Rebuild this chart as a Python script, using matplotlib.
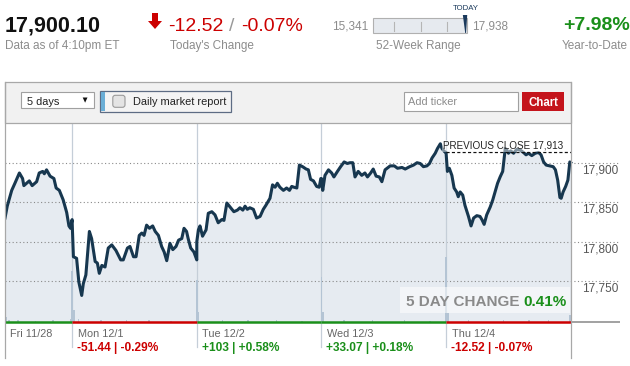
import numpy as np
import matplotlib
matplotlib.use("Agg")
import matplotlib.pyplot as plt
from matplotlib.patches import Rectangle, Polygon, FancyBboxPatch
from matplotlib.lines import Line2D
from matplotlib.transforms import Affine2D

plt.rcParams['font.family'] = ['Liberation Sans', 'DejaVu Sans']

# header numbers
last_price = 17900.10
last_label = "17,900.10"
data_time = "Data as of 4:10pm ET"
chg_pts = "-12.52"
chg_pct = "-0.07%"
low_52 = 15341
high_52 = 17938
ytd = "+7.98%"
prev_close = 17913

# days on the chart
days = ["Fri 11/28", "Mon 12/1", "Tue 12/2", "Wed 12/3", "Thu 12/4"]
day_minutes = [210, 390, 390, 390, 390]
day_changes = ["", "-51.44 | -0.29%", "+103 | +0.58%", "+33.07 | +0.18%", "-12.52 | -0.07%"]
day_up = [True, False, True, True, False]

# intraday prices, minutes since each day's open
fri_t = [0, 7, 21, 31, 45, 55, 59, 76, 85, 99, 107, 118, 123, 130, 141, 153, 160, 170, 182, 193, 200, 205, 210]
fri_v = [17830, 17845, 17865, 17874, 17887, 17880, 17871, 17877, 17871, 17876, 17887, 17889, 17886, 17891,
         17883, 17880, 17868, 17865, 17853, 17837, 17820, 17817, 17828]
mon_t = [0, 4, 14, 21, 30, 35, 43, 54, 61, 72, 79, 85, 93, 103, 113, 124, 137, 152, 160, 173, 181, 187, 192,
         200, 210, 218, 225, 233, 242, 252, 260, 270, 280, 288, 296, 306, 315, 325, 333, 343, 350, 358, 363,
         371, 381, 390]
mon_v = [17826, 17781, 17779, 17749, 17732, 17747, 17758, 17813, 17804, 17775, 17773, 17760, 17770, 17768,
         17792, 17796, 17789, 17777, 17777, 17792, 17794, 17787, 17781, 17781, 17808, 17811, 17808, 17821,
         17817, 17820, 17813, 17808, 17794, 17787, 17776, 17798, 17790, 17794, 17802, 17804, 17817, 17813,
         17804, 17792, 17787, 17777]
tue_t = [0, 5, 10, 18, 29, 36, 47, 57, 67, 78, 85, 94, 106, 116, 127, 135, 144, 151, 158, 166, 177, 187, 198,
         208, 216, 229, 237, 245, 252, 260, 271, 281, 290, 297, 304, 313, 321, 331, 342, 349, 356, 365, 375,
         383, 388, 390]
tue_v = [17800, 17815, 17820, 17807, 17815, 17836, 17838, 17834, 17824, 17828, 17827, 17849, 17843, 17838,
         17840, 17843, 17840, 17845, 17841, 17843, 17841, 17830, 17832, 17841, 17846, 17855, 17872, 17869,
         17874, 17869, 17865, 17868, 17865, 17870, 17869, 17868, 17897, 17895, 17892, 17891, 17879, 17877,
         17870, 17869, 17880, 17880]
wed_t = [0, 4, 11, 22, 32, 39, 50, 60, 71, 81, 89, 98, 105, 115, 126, 136, 144, 154, 162, 171, 181, 189, 199,
         215, 228, 238, 252, 262, 276, 288, 299, 309, 319, 330, 338, 346, 356, 363, 372, 377, 385, 390]
wed_v = [17880, 17865, 17884, 17891, 17887, 17882, 17889, 17895, 17901, 17899, 17900, 17900, 17882, 17889,
         17884, 17887, 17882, 17887, 17892, 17883, 17882, 17876, 17891, 17896, 17896, 17893, 17894, 17892,
         17895, 17897, 17900, 17899, 17895, 17896, 17899, 17906, 17912, 17918, 17924, 17918, 17914, 17913]
thu_t = [0, 4, 10, 18, 25, 33, 38, 44, 52, 59, 70, 78, 86, 96, 106, 112, 119, 127, 138, 146, 153, 161, 169,
         177, 185, 190, 195, 202, 211, 221, 232, 242, 250, 258, 268, 279, 289, 297, 305, 313, 324, 335, 342,
         349, 356, 360, 366, 374, 381, 387, 390]
thu_v = [17912, 17889, 17893, 17884, 17868, 17863, 17857, 17863, 17859, 17846, 17832, 17820, 17830, 17833,
         17832, 17828, 17822, 17834, 17844, 17853, 17863, 17874, 17882, 17889, 17918, 17916, 17912, 17915,
         17912, 17917, 17916, 17913, 17910, 17912, 17909, 17912, 17913, 17910, 17901, 17897, 17896, 17895,
         17891, 17878, 17856, 17855, 17863, 17870, 17878, 17901, 17900]

# volume spikes (minutes since Fri open, relative size)
vol_t = [0, 3, 12, 40, 95, 150, 205, 210, 215, 230, 300, 380, 450, 520, 600, 605, 680, 760, 850, 930,
         990, 995, 1060, 1150, 1250, 1330, 1380, 1385, 1450, 1560, 1640, 1700, 1767]
vol_h = [14, 5, 2, 2, 1, 2, 3, 51, 12, 3, 2, 2, 2, 1, 42, 10, 2, 2, 2, 1,
         45, 10, 2, 2, 2, 1, 65, 9, 2, 2, 2, 2, 7]

y_ticks = [17750, 17800, 17850, 17900]
five_day = "0.41%"

RED = '#cc0000'
GREEN = '#1a8f1a'
GRAY = '#8c8c8c'
NAVY = '#17374f'

fig = plt.figure(figsize=(6.3, 3.66), dpi=100)
fig.patch.set_facecolor('white')
PX = Affine2D().scale(1 / 630, -1 / 366).translate(0, 1) + fig.transFigure


def txt(x, y, s, **kw):
    kw.setdefault('va', 'baseline')
    return fig.text(x, y, s, transform=PX, **kw)


def box(x, y, w, h, **kw):
    return fig.add_artist(Rectangle((x, y), w, h, transform=PX, **kw))


def line(xs, ys, **kw):
    return fig.add_artist(Line2D(xs, ys, transform=PX, **kw))


# ---- header ----
txt(5, 31.5, last_label, fontsize=15.5, fontweight='bold', color='#111111')
txt(5, 48.5, data_time, fontsize=8.5, color=GRAY)

fig.add_artist(Polygon([(152, 13), (158, 13), (158, 21), (162, 21), (155, 29), (148, 21), (152, 21)],
                       closed=True, transform=PX, color=RED, lw=0))
txt(168, 31, chg_pts, fontsize=14, color=RED)
txt(229, 31, "/", fontsize=14, color='#999999')
txt(241, 31, chg_pct, fontsize=14, color=RED)
txt(170, 48.5, "Today's Change", fontsize=8.5, color=GRAY)

bar_x0, bar_x1 = 373, 467
txt(368, 29.3, f"{low_52:,}", fontsize=8.5, color=GRAY, ha='right')
box(bar_x0, 18, bar_x1 - bar_x0, 15, facecolor='#e6eaef', edgecolor='#b0b0b0', lw=0.8)
for k in range(3):
    xx = 394.3 + k * 26.2
    line([xx, xx], [21.7, 30.5], color='#b5b5b5', lw=0.8)
pos = bar_x0 + (last_price - low_52) / (high_52 - low_52) * (bar_x1 - bar_x0)
fig.add_artist(Polygon([(pos - 2.8, 15), (pos + 1.6, 15), (pos + 0.4, 33), (pos - 0.4, 33)],
                       closed=True, transform=PX, color='#1b3a5c', lw=0))
txt(pos, 10, "TODAY", fontsize=5.6, color='#1b3a5c', ha='center')
txt(472, 29.3, f"{high_52:,}", fontsize=8.5, color=GRAY)
txt(376, 49, "52-Week Range", fontsize=8.5, color=GRAY)

txt(563, 29.5, ytd, fontsize=14, fontweight='bold', color=GREEN)
txt(562, 49, "Year-to-Date", fontsize=8.5, color=GRAY)

# ---- panel + toolbar ----
box(4.5, 82, 566.2, 40.5, facecolor='#f1f1f1', edgecolor='#a8a8a8', lw=0.9)
line([4.5, 4.5], [82, 358], color='#a8a8a8', lw=0.9)
line([570.7, 570.7], [82, 358], color='#a8a8a8', lw=0.9)

box(20.7, 91.7, 73.6, 16.6, facecolor='white', edgecolor='#a0a0a0', lw=0.8)
txt(26.7, 104.8, "5 days", fontsize=7.9, color='#222222')
fig.add_artist(Polygon([(82.7, 97.5), (87.5, 97.5), (85.1, 102.7)], closed=True,
                       transform=PX, color='#111111', lw=0))

box(100.3, 91.3, 130.4, 20.4, facecolor='#f4f4f4', edgecolor='#5d6c84', lw=0.9)
box(100.7, 91.8, 4.6, 19.4, facecolor='#6aaed6', edgecolor='none')
fig.add_artist(FancyBboxPatch((112.8, 95.3), 12.2, 12, boxstyle="round,pad=0,rounding_size=2.5",
                              transform=PX, facecolor='#e4e4e4', edgecolor='#9a9a9a', lw=0.8))
txt(132.7, 105.3, "Daily market report", fontsize=7.9, color='#222222')

box(404.3, 92, 113.5, 19, facecolor='white', edgecolor='#a0a0a0', lw=0.8)
txt(408.3, 105.3, "Add ticker", fontsize=7.9, color=GRAY)
box(522.3, 92, 42, 19, facecolor='#c4141c', edgecolor='none')
txt(543.3, 105.5, "Chart", fontsize=8.3, fontweight='bold', color='white', ha='center')

# ---- price chart ----
day_start = np.concatenate([[0], np.cumsum(day_minutes)[:-1]])
day_end = day_start + np.array(day_minutes)
t_all = np.concatenate([np.array(t) + s for t, s in zip([fri_t, mon_t, tue_t, wed_t, thu_t], day_start)])
v_all = np.concatenate([fri_v, mon_v, tue_v, wed_v, thu_v])

ymin, ymax = 17698.4, 17950.9
ax = fig.add_axes([5 / 630, 1 - 322 / 366, 615 / 630, 199.5 / 366])
ax.set_facecolor('white')
ax.set_xlim(0, 1924)
ax.set_ylim(ymin, ymax)
for s in ax.spines.values():
    s.set_visible(False)
ax.set_yticks(y_ticks)
ax.set_xticks([])
ax.tick_params(axis='y', length=0, labelleft=False)
ax.grid(axis='y', linestyle=(0, (1, 2.2)), color='#8a8a8a', lw=0.8)

ax.fill_between(t_all, v_all, ymin, color='#e6ebf1', lw=0, zorder=1)
for s in day_start[1:]:
    ax.plot([s, s], [-0.125, 1], transform=ax.get_xaxis_transform(), color='#c5ced8',
            lw=0.9, clip_on=False, zorder=1.6)
ax.plot(t_all, v_all, color=NAVY, lw=2.2, solid_joinstyle='round', zorder=3)

ax.hlines(prev_close, day_start[-1], day_end[-1], colors='#111111', linestyles=(0, (2.5, 1.8)),
          lw=0.9, zorder=3.5)
ax.annotate(f"PREVIOUS CLOSE {prev_close:,}", xy=(day_end[-1], prev_close), xytext=(-7.5, 3.5),
            textcoords='offset pixels', ha='right', va='baseline', fontsize=7.1, color='#222222',
            zorder=4, bbox=dict(boxstyle='square,pad=0.1', facecolor='white', alpha=0.45, lw=0))

for yt in y_ticks:
    ax.annotate(f"{yt:,}", xy=(1, yt), xycoords=('axes fraction', 'data'), xytext=(-1.5, -10.6),
                textcoords='offset pixels', ha='right', va='baseline', fontsize=8.5, color='#555555',
                annotation_clip=False)

for s, name, chg, up in zip(day_start, days, day_changes, day_up):
    ax.annotate(name, xy=(s, 0), xycoords=ax.get_xaxis_transform(), xytext=(5.5, -14.7),
                textcoords='offset pixels', ha='left', va='baseline', fontsize=7.8, color='#666666',
                annotation_clip=False)
    if chg:
        ax.annotate(chg, xy=(s, 0), xycoords=ax.get_xaxis_transform(), xytext=(5, -29),
                    textcoords='offset pixels', ha='left', va='baseline', fontsize=8.6,
                    fontweight='bold', color=GREEN if up else RED, annotation_clip=False)

# volume on a hidden twin axis
vax = ax.twinx()
vax.set_ylim(0, 199.5)
vax.bar(vol_t, vol_h, width=5, color='#b4c4d4', align='center', zorder=1)
vax.set_xlim(0, 1924)
vax.axis('off')
xt = vax.get_xaxis_transform()
for s, e, up in zip(day_start, day_end, day_up):
    vax.plot([s, e], [0, 0], transform=xt, color=GREEN if up else RED, lw=1.8,
             solid_capstyle='butt', clip_on=False, zorder=4)
vax.plot([day_end[-1], 1924], [0, 0], transform=xt, color='#9a9a9a', lw=1.3,
         solid_capstyle='butt', clip_on=False, zorder=4)

# five-day change badge
box(400, 287, 170, 26, facecolor='white', alpha=0.55, edgecolor='none')
txt(406, 305.5, "5 DAY CHANGE", fontsize=11, fontweight='bold', color='#8a8a8a')
txt(523, 305.5, five_day, fontsize=11, fontweight='bold', color=GREEN)

fig.savefig('out.png', dpi=100)
